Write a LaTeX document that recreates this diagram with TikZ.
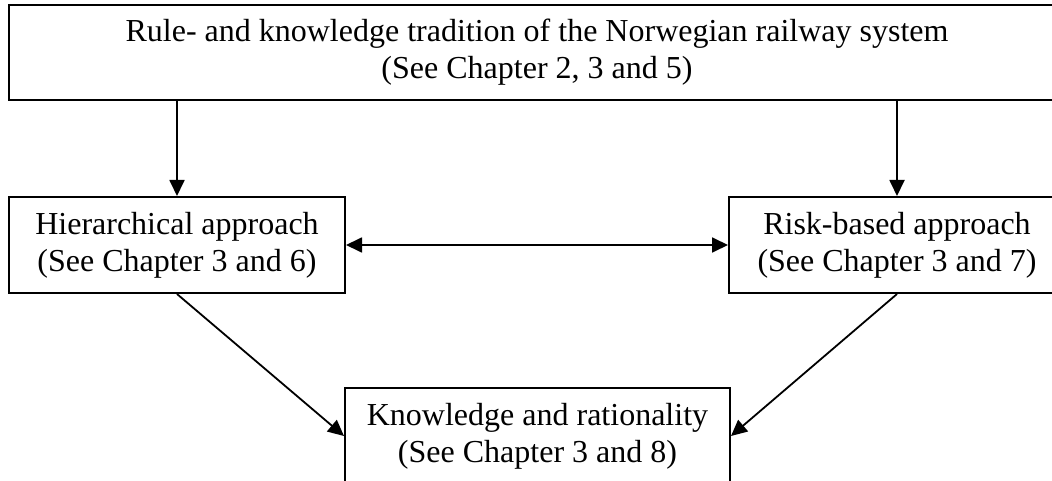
\documentclass[tikz,border=0pt]{standalone}
\usepackage{fontspec}
\setmainfont{Liberation Serif}
\usetikzlibrary{arrows.meta}
\begin{document}
\begin{tikzpicture}[x=1pt,y=-1pt,
  >={Triangle[length=16pt,width=15pt]},
  box/.style={draw, line width=2pt, align=center, inner sep=0pt,
    font=\fontsize{32}{37}\selectfont},
  link/.style={line width=1.8pt}]
\clip (0,0) rectangle (1052,481);

\node[box, minimum width=1056pt, minimum height=95pt] (rules) at (537,52.5)
  {Rule- and knowledge tradition of the Norwegian railway system\\(See Chapter 2, 3 and 5)};
\node[box, minimum width=336pt, minimum height=96pt] (hier) at (177,245)
  {Hierarchical approach\\(See Chapter 3 and 6)};
\node[box, minimum width=336pt, minimum height=96pt] (risk) at (897,245)
  {Risk-based approach\\(See Chapter 3 and 7)};
\node[box, minimum width=385pt, minimum height=96pt] (know) at (537.5,436)
  {Knowledge and rationality\\(See Chapter 3 and 8)};

\draw[link, ->] (rules.south -| hier) -- (hier);
\draw[link, ->] (rules.south -| risk) -- (risk);
\draw[link, <->] (hier) -- (risk);
\draw[link, ->] (hier.south) -- (know.west);
\draw[link, ->] (risk.south) -- (know.east);
\end{tikzpicture}
\end{document}
